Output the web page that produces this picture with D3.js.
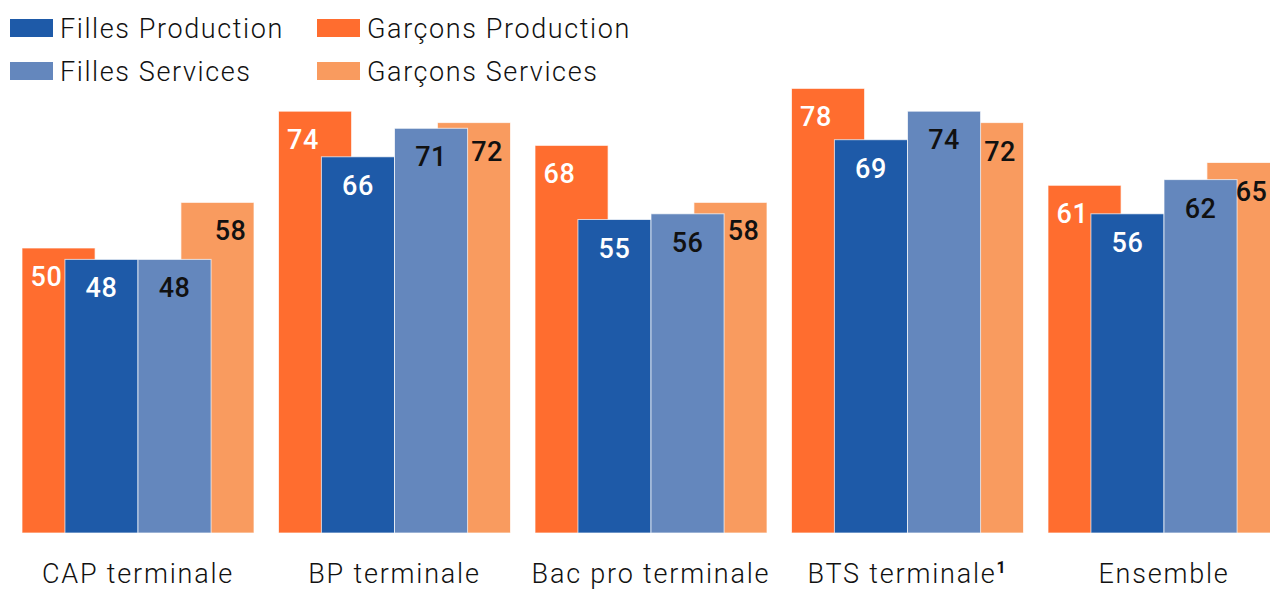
<!DOCTYPE html>
<html>
<head>
<meta charset="utf-8">
<script src="https://cdn.jsdelivr.net/npm/d3@7"></script>
<style>
  html, body { margin: 0; padding: 0; background: #fff; }
  svg { display: block; font-family: Roboto, "Open Sans", sans-serif; }
</style>
</head>
<body>
<svg id="chart" width="1270" height="589"></svg>
<script>
// Taux par formation et par sexe (en %)
const categories = ["CAP terminale", "BP terminale", "Bac pro terminale", "BTS terminale", "Ensemble"];
const fillesProduction = [48, 66, 55, 69, 56];
const fillesServices = [48, 71, 56, 74, 62];
const garconsProduction = [50, 74, 68, 78, 61];
const garconsServices = [58, 72, 58, 72, 65];

const colors = {
  "Filles Production": "#1e5aa8",
  "Filles Services": "#6487bd",
  "Garçons Production": "#ff6d2f",
  "Garçons Services": "#f99b5f"
};
const labelColors = {
  "Filles Production": "#fff",
  "Filles Services": "#111",
  "Garçons Production": "#fff",
  "Garçons Services": "#111"
};

const W = 1270;
const svg = d3.select("#chart");
const baseline = 533;

const x0 = d3.scaleBand()
  .domain(categories)
  .range([22, 1280])
  .paddingInner(24.5 / 256.5)
  .paddingOuter(0);

const bw = x0.bandwidth();
// the two "Filles" bars sit side by side in the middle of each group
const xInner = d3.scaleBand()
  .domain(["Filles Production", "Filles Services"])
  .range([bw * 0.185, bw * 0.815]);
const barW = xInner.bandwidth();
const shift = bw * 0.185;   // "Garçons" bars are offset outward and drawn behind

const y = d3.scaleLinear().domain([0, 80]).range([baseline, baseline - 456]);

const rows = [];
categories.forEach((c, i) => {
  rows.push({ cat: c, s: "Garçons Production", v: garconsProduction[i], x: x0(c) + xInner("Filles Production") - shift });
  rows.push({ cat: c, s: "Garçons Services", v: garconsServices[i], x: x0(c) + xInner("Filles Services") + shift });
  rows.push({ cat: c, s: "Filles Production", v: fillesProduction[i], x: x0(c) + xInner("Filles Production") });
  rows.push({ cat: c, s: "Filles Services", v: fillesServices[i], x: x0(c) + xInner("Filles Services") });
});

svg.append("g").selectAll("rect")
  .data(rows)
  .join("rect")
  .attr("x", d => d.x)
  .attr("y", d => y(d.v))
  .attr("width", barW)
  .attr("height", d => baseline - y(d.v))
  .attr("fill", d => colors[d.s])
  .attr("stroke", "#fff")
  .attr("stroke-opacity", 0.7)
  .attr("stroke-width", 1);

// value labels, centred on the visible part of each bar
function labelX(d) {
  if (d.s === "Garçons Production") return d.x + shift / 2 + 3;
  if (d.s === "Garçons Services") {
    const left = d.x + barW - shift;
    const right = Math.min(d.x + barW, W);
    return (left + right) / 2 - 2;
  }
  return d.x + barW / 2;
}
svg.append("g").selectAll("text")
  .data(rows)
  .join("text")
  .attr("x", labelX)
  .attr("y", d => y(d.v) + 38)
  .attr("text-anchor", "middle")
  .attr("font-size", 27)
  .attr("font-weight", 500)
  .attr("letter-spacing", 0.5)
  .attr("fill", d => labelColors[d.s])
  .text(d => d.v);

// category labels
const cl = svg.append("g").selectAll("text")
  .data(categories)
  .join("text")
  .attr("x", c => x0(c) + bw / 2)
  .attr("y", 583)
  .attr("text-anchor", "middle")
  .attr("font-size", 27)
  .attr("font-weight", 300)
  .attr("letter-spacing", 1.8)
  .attr("fill", "#111");
cl.each(function(c) {
  const t = d3.select(this);
  t.append("tspan").text(c);
  if (c === "BTS terminale") {
    t.append("tspan").attr("font-size", 16).attr("font-weight", 700).attr("dy", -10).text("1");
  }
});

// legend
const legendItems = [
  { s: "Filles Production", x: 10, y: 19 },
  { s: "Garçons Production", x: 317, y: 19 },
  { s: "Filles Services", x: 10, y: 62 },
  { s: "Garçons Services", x: 317, y: 62 }
];
const lg = svg.append("g").selectAll("g")
  .data(legendItems)
  .join("g")
  .attr("transform", d => `translate(${d.x},${d.y})`);
lg.append("rect").attr("width", 43).attr("height", 18).attr("fill", d => colors[d.s]);
lg.append("text")
  .attr("x", 50)
  .attr("y", 19)
  .attr("font-size", 27)
  .attr("font-weight", 300)
  .attr("letter-spacing", 1.6)
  .attr("fill", "#111")
  .text(d => d.s);
</script>
</body>
</html>
